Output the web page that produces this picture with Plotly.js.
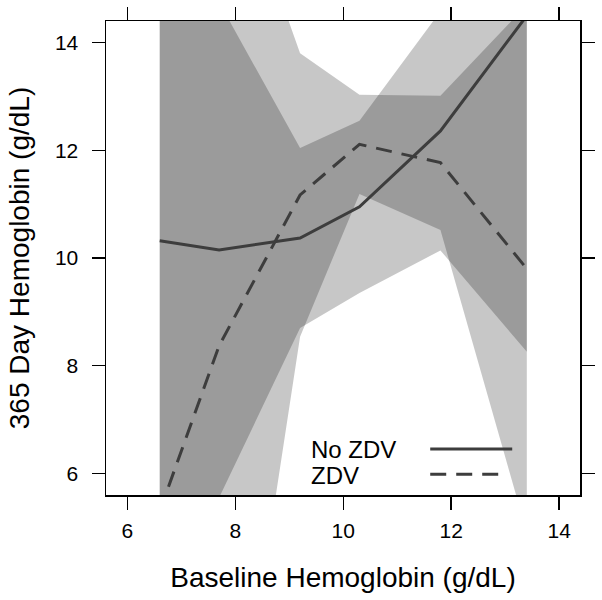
<!DOCTYPE html>
<html>
<head>
<meta charset="utf-8">
<script src="https://cdn.plot.ly/plotly-3.0.1.min.js"></script>
<style>html,body{margin:0;padding:0;background:#fff;}#chart{width:602px;height:600px;}</style>
</head>
<body>
<div id="chart"></div>
<script>
// Data
var baseline = [6.6, 7.7, 9.2, 10.3, 11.8, 13.4];
var noZdvFit = [10.32, 10.15, 10.37, 10.95, 12.36, 14.5];
var noZdvLower = [4.3, 5.55, 8.70, 9.35, 10.14, 8.26];
var noZdvUpper = [16.3, 14.75, 12.04, 12.55, 14.58, 20.74];
var zdvFit = [5.3, 8.37, 11.17, 12.11, 11.77, 9.8];
var zdvLower = [-9.0, -1.3, 8.54, 11.19, 10.52, 4.9];
var zdvUpper = [19.6, 18.05, 13.80, 13.03, 13.01, 14.7];
var seriesNames = ["No ZDV", "ZDV"];
var tickValues = [6, 8, 10, 12, 14];
var tickLabels = ["6", "8", "10", "12", "14"];
var xTitle = "Baseline Hemoglobin (g/dL)";
var yTitle = "365 Day Hemoglobin (g/dL)";

function band(x, lo, hi) {
  return {
    x: x.concat(x.slice().reverse()),
    y: hi.concat(lo.slice().reverse())
  };
}
var bandA = band(baseline, noZdvLower, noZdvUpper);
var bandB = band(baseline, zdvLower, zdvUpper);
var font = "Liberation Sans, Arial, Helvetica, sans-serif";
var lineColor = "#3d3d3d";
var dashStyle = "16px,10px";

var traces = [
  {x: bandA.x, y: bandA.y, type: "scatter", mode: "lines", fill: "toself",
   fillcolor: "rgba(0,0,0,0.22)", line: {width: 0}, hoverinfo: "skip", showlegend: false},
  {x: bandB.x, y: bandB.y, type: "scatter", mode: "lines", fill: "toself",
   fillcolor: "rgba(0,0,0,0.22)", line: {width: 0}, hoverinfo: "skip", showlegend: false},
  {x: baseline, y: noZdvFit, type: "scatter", mode: "lines", name: seriesNames[0],
   line: {color: lineColor, width: 3}, showlegend: false},
  {x: baseline, y: zdvFit, type: "scatter", mode: "lines", name: seriesNames[1],
   line: {color: lineColor, width: 3, dash: dashStyle}, showlegend: false}
];

var axisCommon = {
  showgrid: false, zeroline: false, showline: true, mirror: "ticks",
  linecolor: "#000", linewidth: 1.5, ticks: "outside", ticklen: 13,
  tickwidth: 1.5, tickcolor: "#000", tickmode: "array",
  tickvals: tickValues, ticktext: tickLabels,
  tickfont: {family: font, size: 21, color: "#000"}, automargin: false, fixedrange: true
};

var layout = {
  width: 602, height: 600,
  margin: {l: 106, r: 22, t: 21, b: 105},
  paper_bgcolor: "#fff", plot_bgcolor: "#fff",
  showlegend: false,
  xaxis: Object.assign({}, axisCommon, {
    range: [5.605, 14.385], ticklabelstandoff: 3,
    title: {text: xTitle, font: {family: font, size: 28, color: "#000"}, standoff: 26}
  }),
  yaxis: Object.assign({}, axisCommon, {
    range: [5.6, 14.4], ticklabelstandoff: 9,
    title: {text: yTitle, font: {family: font, size: 28, color: "#000"}, standoff: 17}
  }),
  annotations: [
    {xref: "paper", yref: "paper", x: 0.428, y: 0.097, xanchor: "left", yanchor: "middle",
     text: seriesNames[0], showarrow: false, font: {family: font, size: 24, color: "#000"}},
    {xref: "paper", yref: "paper", x: 0.428, y: 0.042, xanchor: "left", yanchor: "middle",
     text: seriesNames[1], showarrow: false, font: {family: font, size: 24, color: "#000"}}
  ],
  shapes: [
    {type: "line", xref: "paper", yref: "paper", x0: 0.684, x1: 0.857, y0: 0.097, y1: 0.097,
     line: {color: lineColor, width: 3}},
    {type: "line", xref: "paper", yref: "paper", x0: 0.684, x1: 0.845, y0: 0.044, y1: 0.044,
     line: {color: lineColor, width: 3, dash: dashStyle}}
  ]
};

Plotly.newPlot("chart", traces, layout, {displayModeBar: false, staticPlot: true});
</script>
</body>
</html>
